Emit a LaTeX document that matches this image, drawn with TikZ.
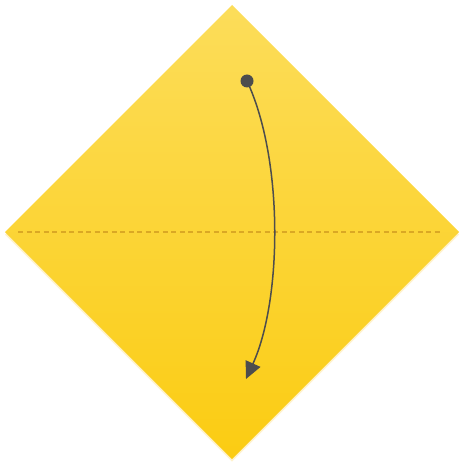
\documentclass[tikz,border=0pt]{standalone}
\usetikzlibrary{arrows.meta}
\definecolor{topY}{RGB}{252,221,90}
\definecolor{botY}{RGB}{251,204,18}
\definecolor{shadowY}{RGB}{255,242,205}
\definecolor{dashY}{RGB}{218,168,36}
\definecolor{ink}{RGB}{77,77,77}
\tikzset{
  paper/.style={top color=topY,bottom color=botY,draw=none},
  foldline/.style={dashY,line width=1.4pt,dash pattern=on 5pt off 3.5pt},
  movearrow/.style={ink,line width=1.5pt,-{Triangle[length=17pt,width=16pt]}},
}
\begin{document}
\begin{tikzpicture}[x=1pt,y=-1pt]
\useasboundingbox (0,0) rectangle (459,462);
\fill[shadowY] (232,7.5) -- (459,234.5) -- (232,461.5) -- (5,234.5) -- cycle;
\shade[paper] (232,5) -- (459,232) -- (232,459) -- (5,232) -- cycle;
\coordinate (dl) at (18,232);
\coordinate (dr) at (441,232);
\draw[foldline] (dl) -- (dr);
\node[circle,fill=ink,inner sep=0pt,minimum size=13pt] (start) at (247,81) {};
\coordinate (end) at (246,379);
\draw[movearrow] (start.center) .. controls (284,160) and (282,300) .. (end);
\end{tikzpicture}
\end{document}
